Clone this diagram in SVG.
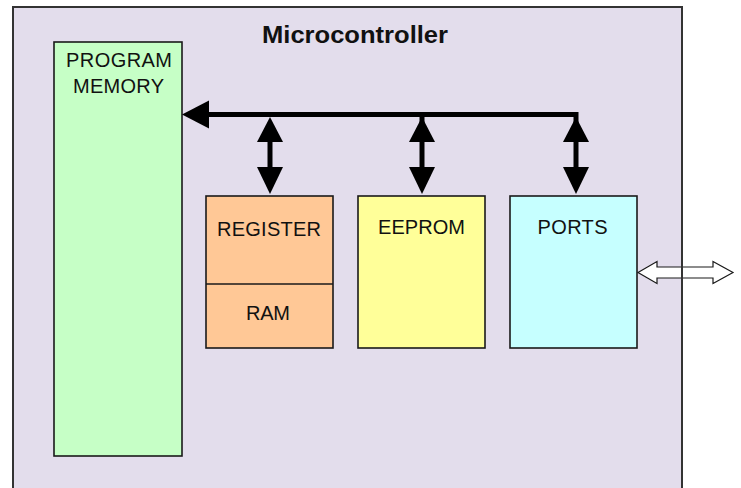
<svg xmlns="http://www.w3.org/2000/svg" width="741" height="488" viewBox="0 0 741 488">
<style>
.box{stroke:#1a1a1a;stroke-width:1.6}
.lbl{font-family:"Liberation Sans",Arial,sans-serif;font-size:20px;fill:#111;text-anchor:middle}
.title{font-family:"Liberation Sans",Arial,sans-serif;font-size:23px;font-weight:bold;fill:#111}
.bus{stroke:#000;stroke-width:5;fill:none}
.head{fill:#000}
</style>
<rect x="0" y="0" width="741" height="488" fill="#fff"/>
<g id="microcontroller">
<rect x="13" y="7" width="669" height="490" fill="#E3DDEC"/>
<text class="title" x="262" y="43" textLength="186" lengthAdjust="spacingAndGlyphs">Microcontroller</text>
</g>
<g id="program-memory">
<rect class="box" x="54" y="42" width="128" height="414" fill="#C6FFC6"/>
<text class="lbl" x="119" y="67" textLength="106" lengthAdjust="spacing">PROGRAM</text>
<text class="lbl" x="118.5" y="93" textLength="91" lengthAdjust="spacing">MEMORY</text>
</g>
<g id="register-ram">
<rect class="box" x="206" y="196" width="127" height="152" fill="#FFC896"/>
<line class="box" x1="206" y1="284" x2="333" y2="284"/>
<text class="lbl" x="269" y="236" textLength="104" lengthAdjust="spacing">REGISTER</text>
<text class="lbl" x="268" y="320" textLength="44" lengthAdjust="spacing">RAM</text>
</g>
<g id="eeprom">
<rect class="box" x="358" y="196" width="127" height="152" fill="#FFFF99"/>
<text class="lbl" x="421.5" y="234" textLength="87" lengthAdjust="spacing">EEPROM</text>
</g>
<g id="ports">
<rect class="box" x="510" y="196" width="127" height="152" fill="#C6FFFF"/>
<text class="lbl" x="572.5" y="234" textLength="70" lengthAdjust="spacing">PORTS</text>
</g>
<g id="connectors">
<line class="bus" x1="205" y1="114.5" x2="578" y2="114.5"/>
<polygon class="head" points="182,114.5 209,100.5 209,128.5"/>
<line class="bus" x1="270" y1="130" x2="270" y2="180"/>
<polygon class="head" points="270,117 283,142 257,142"/>
<polygon class="head" points="270,194 283,167 257,167"/>
<line class="bus" x1="422" y1="114" x2="422" y2="180"/>
<polygon class="head" points="422,117 435,142 409,142"/>
<polygon class="head" points="422,194 435,167 409,167"/>
<line class="bus" x1="576" y1="112" x2="576" y2="180"/>
<polygon class="head" points="576,117 589,142 563,142"/>
<polygon class="head" points="576,194 589,167 563,167"/>
<polygon points="638,272.5 657,261.5 657,267 713,267 713,261.5 733,272.5 713,283.5 713,278 657,278 657,283.5" fill="#fff" stroke="#1a1a1a" stroke-width="1.2"/>
</g>
<rect x="13" y="7" width="669" height="490" fill="none" stroke="#333" stroke-width="2"/>
</svg>
